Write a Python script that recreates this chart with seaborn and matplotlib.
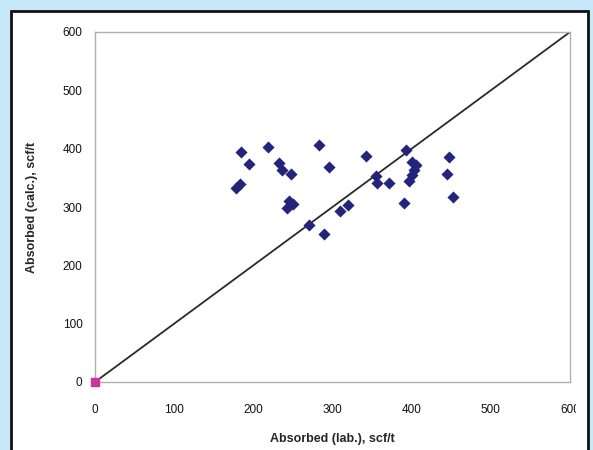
import matplotlib
matplotlib.use("Agg")
import matplotlib.pyplot as plt
import seaborn as sns
import pandas as pd
from matplotlib.patches import Rectangle

# data
lab_values = [178, 183, 185, 194, 219, 232, 236, 248, 243, 245, 250, 270, 283, 289, 296,
              310, 319, 342, 355, 356, 371, 390, 393, 397, 400, 406, 403, 401, 447, 445, 452]
calc_values = [333, 339, 394, 373, 403, 375, 363, 357, 299, 311, 305, 270, 406, 254, 368,
               294, 304, 387, 353, 341, 341, 307, 398, 344, 377, 372, 363, 355, 385, 357, 318]
line_x = [0, 600]
line_y = [0, 600]
ticks = [0, 100, 200, 300, 400, 500, 600]

df = pd.DataFrame({"lab": lab_values, "calc": calc_values})

sns.set_style("white")
plt.rcParams["font.family"] = ["Liberation Sans", "DejaVu Sans"]

fig = plt.figure(figsize=(5.93, 4.5), dpi=100)
fig.patch.set_facecolor("#c6e8f8")

# white panel with dark border
fig.add_artist(Rectangle((11 / 593, -0.05), 577 / 593, 1.05 - 11 / 450,
                         transform=fig.transFigure, facecolor="white",
                         edgecolor="none", zorder=-5))
# the "600" x label is cut off at the panel edge in the original
fig.add_artist(Rectangle((576 / 593, 1 - 420 / 450), 12 / 593, 25 / 450,
                         transform=fig.transFigure, facecolor="white",
                         edgecolor="none", zorder=9))
fig.add_artist(Rectangle((11 / 593, -0.05), 577 / 593, 1.05 - 11 / 450,
                         transform=fig.transFigure, fill=False,
                         edgecolor="#111111", linewidth=2, zorder=10))

ax = fig.add_axes([95 / 593, 1 - 382 / 450, 475 / 593, 350 / 450])
ax.set_facecolor("white")

ax.plot(line_x, line_y, color="#2a2a2a", linewidth=1.3, zorder=2)
sns.scatterplot(data=df, x="lab", y="calc", marker="D", s=38, color="#24247c",
                edgecolor="#24247c", linewidth=0, ax=ax, zorder=3)
ax.scatter([0], [0], marker="s", s=30, color="#cc3399", zorder=4, clip_on=False)

ax.set_xlim(0, 600)
ax.set_ylim(0, 600)
ax.set_xticks(ticks)
ax.set_yticks(ticks)
for s in ax.spines.values():
    s.set_color("#b0b0b0")
    s.set_linewidth(1)
ax.tick_params(axis="both", direction="out", length=3, width=1, color="#b0b0b0",
               labelsize=8.5, labelcolor="#111111", pad=6)
ax.tick_params(axis="x", pad=13)
ax.set_xlabel("Absorbed (lab.), scf/t", fontsize=9, fontweight="bold", labelpad=12)
ax.set_ylabel("Absorbed (calc.), scf/t", fontsize=9, fontweight="bold", labelpad=18)

fig.savefig("out.png", dpi=100, facecolor=fig.get_facecolor())
